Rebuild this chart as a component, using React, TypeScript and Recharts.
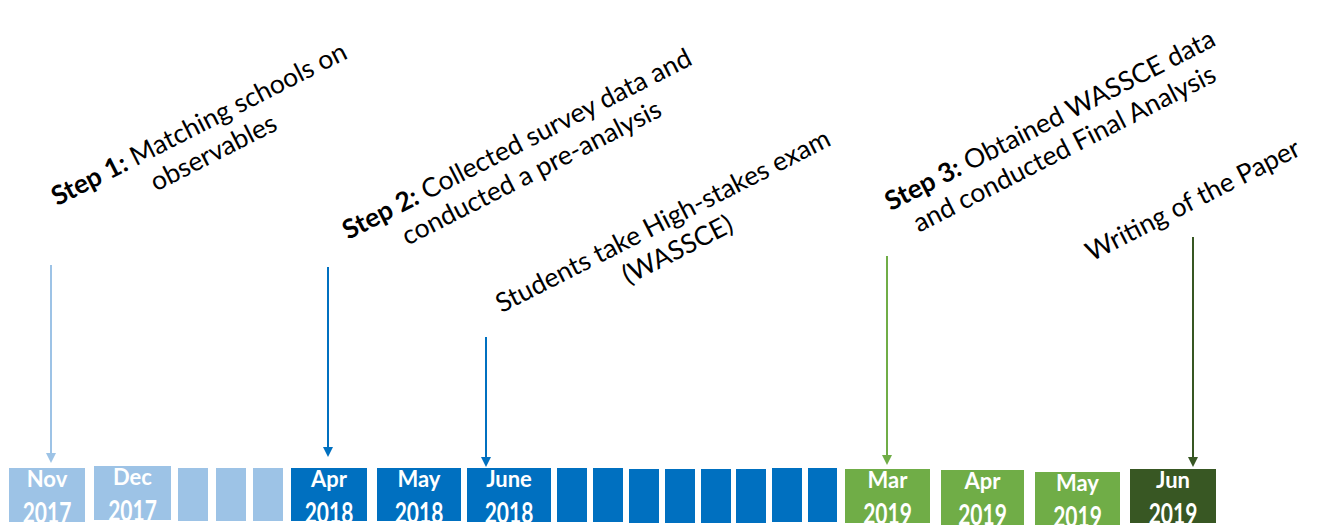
import React from 'react';
import { ComposedChart, XAxis, YAxis, ReferenceArea, ReferenceLine, ReferenceDot } from 'recharts';

// Timeline months (one box per month, Nov 2017 .. Jun 2019)
const monthNames = ['Nov', 'Dec', '', '', '', 'Apr', 'May', 'June', '', '', '', '', '', '', '', '', 'Mar', 'Apr', 'May', 'Jun'];
const yearNames = ['2017', '2017', '', '', '', '2018', '2018', '2018', '', '', '', '', '', '', '', '', '2019', '2019', '2019', '2019'];
// box extents on the timeline axis
const boxStart = [9, 94, 178, 216, 253, 291, 377, 467, 557, 593, 629, 665, 701, 736, 772, 808, 845, 941, 1035, 1130];
const boxEnd = [85, 171, 208, 246, 283, 367, 461, 551, 587, 623, 659, 695, 731, 766, 802, 837, 930, 1024, 1120, 1216];
const boxTop = [468, 466, 468, 468, 468, 468, 468, 468, 468, 468, 469, 469, 469, 469, 468, 468, 469, 470, 472, 469];
const boxBottom = [522, 520, 521, 521, 521, 521, 521, 522, 522, 522, 523, 523, 523, 523, 522, 522, 523, 525, 525, 523];
const boxPhase = [0, 0, 0, 0, 0, 1, 1, 1, 1, 1, 1, 1, 1, 1, 1, 1, 2, 2, 2, 3];

// Milestone arrows
const arrowX = [51, 328, 486, 887, 1193];
const arrowFrom = [265, 267, 337, 256, 237];
const arrowTo = [463, 457, 467, 465, 467];
const arrowPhase = [0, 1, 1, 2, 3];

// Milestone notes
const noteBold = ['Step 1:', 'Step 2:', '', 'Step 3:', ''];
const noteLine1 = [' Matching schools on', ' Collected survey data and', 'Students take High-stakes exam', ' Obtained WASSCE data', 'Writing of the Paper'];
const noteLine2 = ['observables', 'conducted a pre-analysis', '(WASSCE)', 'and conducted Final Analysis', ''];
const noteX = [203, 521, 667, 1054, 1197];
const noteY = [132, 152, 229, 128, 208];

const phaseColors = ['#9DC3E6', '#0070C0', '#70AD47', '#385723'];
const FONT = 'Lato, "Open Sans", sans-serif';
const ANGLE = -27;
const NOTE_SIZE = 26.5;
const LINE_GAP = 32;

const boxes = monthNames.map((m, i) => ({ m, y: yearNames[i], x1: boxStart[i], x2: boxEnd[i], t: boxTop[i], b: boxBottom[i], c: phaseColors[boxPhase[i]] }));

export default function App() {
  return (
    <div style={{ position: 'absolute', left: 0, top: 0, background: '#fff' }}>
      <ComposedChart width={1324} height={525} data={boxes} margin={{ top: 0, right: 0, bottom: 0, left: 0 }}>
        <XAxis type="number" dataKey="x1" domain={[0, 1324]} hide allowDataOverflow />
        <YAxis type="number" domain={[0, 525]} reversed hide allowDataOverflow />
        {boxes.map((bx, i) => (
          <ReferenceArea
            key={'b' + i}
            x1={bx.x1}
            x2={bx.x2}
            y1={bx.t}
            y2={bx.b}
            ifOverflow="visible"
            shape={(p: any) => {
              const cx = p.x + p.width / 2;
              return (
                <g>
                  <rect x={p.x} y={p.y} width={p.width} height={p.height} fill={bx.c} />
                  {bx.m && (
                    <text x={cx} y={p.y + 19} textAnchor="middle" fill="#fff" fontWeight="bold" fontSize={22} fontFamily={FONT}>{bx.m}</text>
                  )}
                  {bx.y && (
                    <g transform={`translate(${cx} ${p.y + 55}) scale(1 1.33)`}>
                      <text x={0} y={0} textAnchor="middle" fill="#fff" fontWeight="bold" fontSize={21} fontFamily={FONT}>{bx.y}</text>
                    </g>
                  )}
                </g>
              );
            }}
          />
        ))}
        {arrowX.map((x, i) => (
          <ReferenceLine
            key={'a' + i}
            segment={[{ x, y: arrowFrom[i] }, { x, y: arrowTo[i] - 8 }]}
            stroke={phaseColors[arrowPhase[i]]}
            strokeWidth={2}
            ifOverflow="visible"
          />
        ))}
        {arrowX.map((x, i) => (
          <ReferenceDot
            key={'h' + i}
            x={x}
            y={arrowTo[i]}
            r={0}
            ifOverflow="visible"
            shape={(p: any) => (
              <path d={`M${p.cx - 5},${p.cy - 10} L${p.cx + 5},${p.cy - 10} L${p.cx},${p.cy} Z`} fill={phaseColors[arrowPhase[i]]} />
            )}
          />
        ))}
        {noteX.map((x, i) => (
          <ReferenceDot
            key={'n' + i}
            x={x}
            y={noteY[i]}
            r={0}
            ifOverflow="visible"
            shape={(p: any) => (
              <g transform={`rotate(${ANGLE} ${p.cx} ${p.cy})`} fontFamily={FONT} fontSize={NOTE_SIZE} fill="#000">
                <text x={p.cx} y={p.cy} textAnchor="middle">
                  {noteBold[i] && <tspan fontWeight="bold">{noteBold[i]}</tspan>}
                  <tspan>{noteLine1[i]}</tspan>
                </text>
                {noteLine2[i] && (
                  <text x={p.cx} y={p.cy + LINE_GAP} textAnchor="middle">{noteLine2[i]}</text>
                )}
              </g>
            )}
          />
        ))}
      </ComposedChart>
    </div>
  );
}
